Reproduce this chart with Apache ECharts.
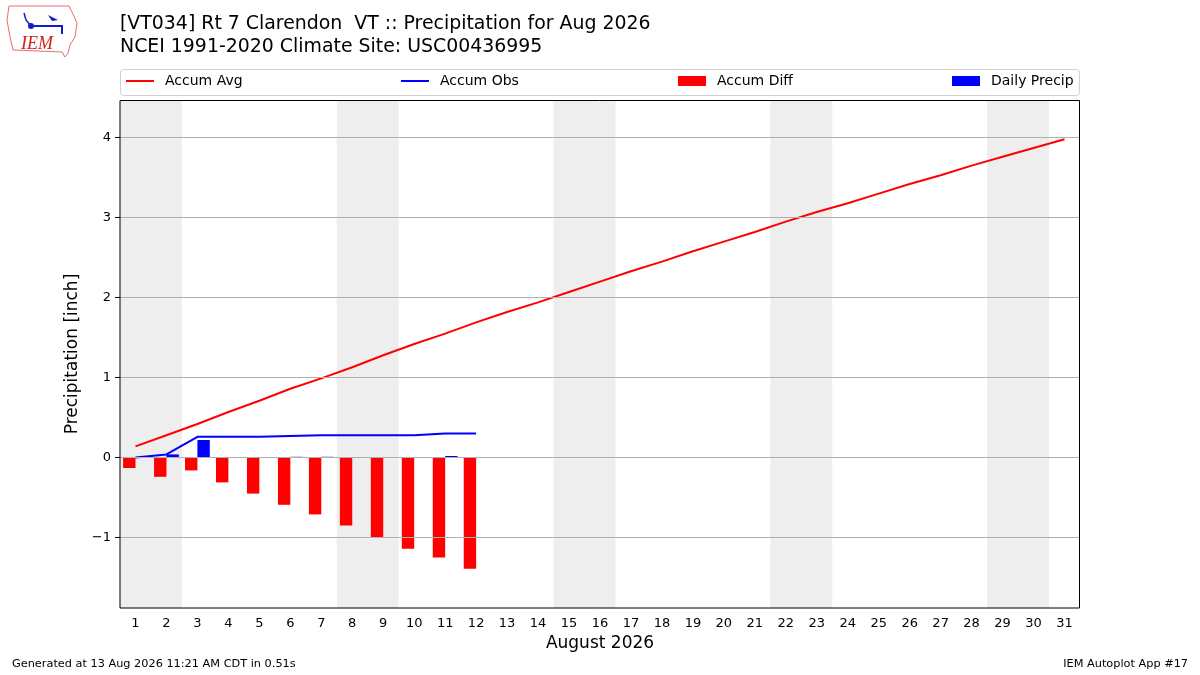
<!DOCTYPE html>
<html>
<head>
<meta charset="utf-8">
<script src="https://cdn.jsdelivr.net/npm/echarts@6/dist/echarts.min.js"></script>
<style>html,body{margin:0;padding:0;background:#fff}#c{width:1200px;height:675px}</style>
</head>
<body>
<div id="c"></div>
<script>
var days = ['1','2','3','4','5','6','7','8','9','10','11','12','13','14','15','16','17','18','19','20','21','22','23','24','25','26','27','28','29','30','31'];
var accumAvg = [0.14,0.28,0.42,0.57,0.71,0.86,0.99,1.13,1.28,1.42,1.55,1.69,1.82,1.94,2.07,2.20,2.33,2.45,2.58,2.70,2.82,2.95,3.07,3.18,3.30,3.42,3.53,3.65,3.76,3.87,3.98];
var accumObs = [0.00,0.04,0.26,0.26,0.26,0.27,0.28,0.28,0.28,0.28,0.30,0.30];
var accumDiff = [-0.13,-0.24,-0.16,-0.31,-0.45,-0.59,-0.71,-0.85,-1.00,-1.14,-1.25,-1.39];
var dailyPrecip = [0.00,0.04,0.22,0.00,0.00,0.01,0.01,0.00,0.00,0.00,0.02,0.00];
var weekends = [[1,2],[8,9],[15,16],[22,23],[29,30]];
var yTicks = [-1,0,1,2,3,4];

var FONT = 'DejaVu Sans';
var chart = echarts.init(document.getElementById('c'), null, {renderer:'canvas'});

var bands = weekends.map(function(w){ return [{xAxis: w[0]-0.5},{xAxis: w[1]+0.5}]; });
var grids = yTicks.map(function(v){ return {yAxis: v}; });

function legendAt(left, name, h){
  return {
    left: left, top: 74, padding: 0, data:[name], icon:'rect',
    itemWidth: 28, itemHeight: h, selectedMode:false,
    textStyle:{fontFamily:FONT, fontSize:14, color:'#000', padding:[0,0,0,6]}
  };
}

var option = {
  animation:false,
  backgroundColor:'#fff',
  title:{
    text:'[VT034] Rt 7 Clarendon  VT :: Precipitation for Aug 2026\nNCEI 1991-2020 Climate Site: USC00436995',
    left:120, top:13, padding:0,
    textStyle:{fontFamily:FONT, fontSize:18.9, fontWeight:'normal', color:'#000', lineHeight:23}
  },
  legend:[
    legendAt(126,'Accum Avg',2),
    legendAt(401,'Accum Obs',2),
    legendAt(678,'Accum Diff',10),
    legendAt(952,'Daily Precip',10)
  ],
  grid:{left:120, right:120, top:100, bottom:67, show:false},
  xAxis:[{
    type:'category', data:days, boundaryGap:true, z:10,
    name:'August 2026', nameLocation:'middle', nameGap:27,
    nameTextStyle:{fontFamily:FONT, fontSize:17, color:'#000'},
    axisLine:{show:false, onZero:false, lineStyle:{color:'#000'}},
    axisTick:{alignWithLabel:true, length:5, lineStyle:{color:'#000'}},
    axisLabel:{fontFamily:FONT, fontSize:13, color:'#000', margin:9, interval:0},
    splitLine:{show:false}
  },{
    type:'value', min:0.5, max:31.5, show:false
  }],
  yAxis:{
    type:'value', min:-1.88, max:4.47, z:10,
    name:'Precipitation [inch]', nameLocation:'middle', nameGap:35,
    nameTextStyle:{fontFamily:FONT, fontSize:17, color:'#000'},
    axisLine:{show:false, onZero:false, lineStyle:{color:'#000'}},
    axisTick:{show:true, length:5, lineStyle:{color:'#000'}, customValues:yTicks},
    axisLabel:{fontFamily:FONT, fontSize:13, color:'#000', margin:9, customValues:yTicks,
      formatter:function(v){ return String(v).replace('-', '\u2212'); }},
    splitLine:{show:false}
  },
  series:[
    {
      name:'bg', type:'line', xAxisIndex:1, data:[[0.5,0]], showSymbol:false, silent:true,
      lineStyle:{opacity:0}, z:1,
      markArea:{silent:true, itemStyle:{color:'#eeeeee'}, data:bands},
      markLine:{silent:true, symbol:['none','none'], label:{show:false},
        lineStyle:{color:'#b0b0b0', width:1, type:'solid'}, data:grids}
    },
    {name:'Accum Diff', type:'bar', data:accumDiff, barWidth:'40%', barGap:'0%', itemStyle:{color:'#ff0000'}, z:3},
    {name:'Daily Precip', type:'bar', data:dailyPrecip, barWidth:'40%', barGap:'0%', itemStyle:{color:'#0000ff'}, z:3},
    {name:'Accum Avg', type:'line', data:accumAvg, showSymbol:false, symbol:'none', lineStyle:{color:'#ff0000', width:2}, itemStyle:{color:'#ff0000'}, z:4},
    {name:'Accum Obs', type:'line', data:accumObs, showSymbol:false, symbol:'none', lineStyle:{color:'#0000ff', width:2}, itemStyle:{color:'#0000ff'}, z:4}
  ],
  graphic:[
    {type:'rect', z:-1, shape:{x:120.5, y:69.5, width:959, height:26, r:3}, style:{fill:'#fff', stroke:'#d0d0d0', lineWidth:1}},
    {type:'rect', z:100, silent:true, shape:{x:120, y:100.5, width:959.5, height:507.5}, style:{fill:'none', stroke:'#000', lineWidth:1}},
    {type:'polygon', shape:{points:[[9,6],[69,6],[72,12],[77,23],[75,37],[70,45],[68,53],[65,57],[62,52],[13,50],[10,37],[7,20]]},
      style:{fill:'none', stroke:'#e07070', lineWidth:1}},
    {type:'text', left:21, top:35, style:{text:'IEM', fontFamily:'Liberation Serif', fontStyle:'italic', fontSize:18, fill:'#d02020'}},
    {type:'polyline', shape:{points:[[31,26],[62,26],[62,34]]}, style:{stroke:'#1020c0', lineWidth:2, fill:'none'}},
    {type:'polyline', shape:{points:[[24,13],[26,20],[31,26]]}, style:{stroke:'#1020c0', lineWidth:1.5, fill:'none'}},
    {type:'polygon', shape:{points:[[48,15],[58,20],[52,21]]}, style:{fill:'#1020c0'}},
    {type:'circle', shape:{cx:31, cy:26, r:3}, style:{fill:'#1020c0'}},
    {type:'text', left:12, top:659, style:{text:'Generated at 13 Aug 2026 11:21 AM CDT in 0.51s', fontFamily:FONT, fontSize:11.3, fill:'#000'}},
    {type:'text', right:12, top:659, style:{text:'IEM Autoplot App #17', fontFamily:FONT, fontSize:11.3, fill:'#000'}}
  ]
};
chart.setOption(option);
</script>
</body>
</html>
